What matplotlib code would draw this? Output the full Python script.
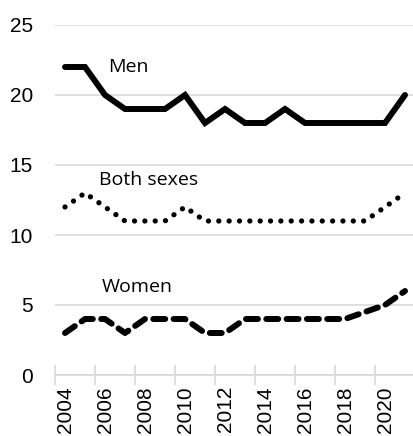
import matplotlib
matplotlib.use("Agg")
import matplotlib.pyplot as plt
from matplotlib.ticker import FixedLocator

years = list(range(2004, 2022))
men = [22, 22, 20, 19, 19, 19, 20, 18, 19, 18, 18, 19, 18, 18, 18, 18, 18, 20]
both_sexes = [12, 13, 12, 11, 11, 11, 12, 11, 11, 11, 11, 11, 11, 11, 11, 11, 12, 13]
women = [3, 4, 4, 3, 4, 4, 4, 3, 3, 4, 4, 4, 4, 4, 4, 4.5, 5, 6]
labels = [("Men", 2006.15, 22.0), ("Both sexes", 2005.7, 13.9), ("Women", 2005.85, 6.3)]
y_ticks = [0, 5, 10, 15, 20, 25]
grid_color = "#d9d9d9"

fig = plt.figure(figsize=(4.14, 4.36), dpi=100)
ax = fig.add_axes([55 / 414, 1 - 375 / 436, 360 / 414, 350 / 436])

ax.plot(years, men, color="black", lw=4.3, solid_capstyle="round", solid_joinstyle="miter")
ax.plot(years, both_sexes, color="black", lw=3.8, linestyle=(0, (0.01, 1.95)),
        dash_capstyle="round")
ax.plot(years, women, color="black", lw=4.3, linestyle=(0, (2.0, 1.4)),
        dash_capstyle="round")

for text, x, y in labels:
    ax.text(x, y, text, fontsize=14, family=["Open Sans", "DejaVu Sans"],
            va="center", ha="left")

ax.set_xlim(2003.5, 2021.5)
ax.set_ylim(0, 25)
ax.set_yticks(y_ticks)
ax.yaxis.grid(True, color=grid_color, lw=1.2)
ax.set_axisbelow(True)
ax.tick_params(axis="y", length=0, pad=16, labelsize=15)
for lab in ax.get_yticklabels():
    lab.set_family(["Liberation Sans", "DejaVu Sans"])

# major ticks between categories (marks only), minor ticks carry the year labels
ax.xaxis.set_major_locator(FixedLocator([y - 0.5 for y in years[::2]] + [2021.5]))
ax.xaxis.set_minor_locator(FixedLocator(years[::2]))
ax.set_xticklabels([])
ax.set_xticklabels([str(y) for y in years[::2]], minor=True, rotation=90)
ax.tick_params(axis="x", which="major", direction="inout", length=15, width=1.2,
               color=grid_color)
ax.tick_params(axis="x", which="minor", length=0, pad=8, labelsize=15)
for lab in ax.get_xticklabels(minor=True):
    lab.set_family(["Liberation Sans", "DejaVu Sans"])
    lab.set_va("top")

for side in ["top", "right", "left"]:
    ax.spines[side].set_visible(False)
ax.spines["bottom"].set_color(grid_color)
ax.spines["bottom"].set_linewidth(1.2)

fig.savefig("out.png", dpi=100)
